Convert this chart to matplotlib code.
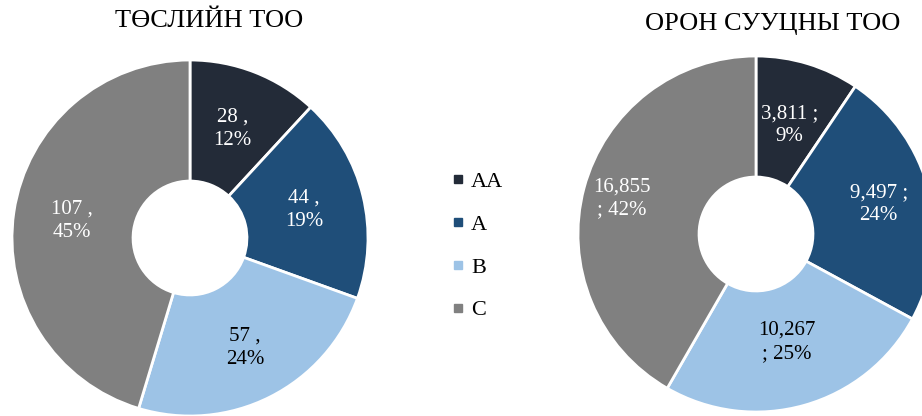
import matplotlib
matplotlib.use("Agg")
import numpy as np
import matplotlib.pyplot as plt
from matplotlib.lines import Line2D

plt.rcParams['font.family'] = ['Liberation Serif', 'DejaVu Serif']

categories = ["AA", "A", "B", "C"]
colors = ["#232b38", "#1f4e79", "#9dc3e6", "#808080"]
label_colors = ["white", "white", "black", "white"]

projects_title = "ТӨСЛИЙН ТОО"
projects = [28, 44, 57, 107]
projects_pct = ["12%", "19%", "24%", "45%"]
projects_text = ["28 ,\n12%", "44 ,\n19%", "57 ,\n24%", "107 ,\n45%"]

units_title = "ОРОН СУУЦНЫ ТОО"
units = [3811, 9497, 10267, 16855]
units_pct = ["9%", "24%", "25%", "42%"]
units_text = ["3,811 ;\n9%", "9,497 ;\n24%", "10,267\n; 25%", "16,855\n; 42%"]

W, H = 922, 416
fig = plt.figure(figsize=(W / 100, H / 100), dpi=100)
ax = fig.add_axes([0, 0, 1, 1])

R = 178
ring = 0.68


def donut(values, labels, center, label_r):
    wedges, _ = ax.pie(values, colors=colors, radius=R, center=center,
                       startangle=90, counterclock=False,
                       wedgeprops=dict(width=R * ring, edgecolor="white", linewidth=2))
    for w, lab, tc, lr in zip(wedges, labels, label_colors, label_r):
        ang = np.deg2rad((w.theta1 + w.theta2) / 2)
        x = center[0] + R * lr * np.cos(ang)
        y = center[1] + R * lr * np.sin(ang)
        ax.text(x, y, lab, ha="center", va="center", color=tc,
                fontsize=15, linespacing=1.3)
    return wedges


donut(projects, projects_text, (190, H - 238), [0.66, 0.66, 0.69, 0.67])
donut(units, units_text, (756, H - 234), [0.64, 0.71, 0.63, 0.78])

ax.text(209, H - 21, projects_title, ha="center", va="center", fontsize=19)
ax.text(773, H - 24, units_title, ha="center", va="center", fontsize=19)

handles = [Line2D([], [], marker="s", linestyle="none", markersize=6,
                  markerfacecolor=c, markeredgecolor=c) for c in colors]
ax.legend(handles, categories, loc="center left", bbox_to_anchor=(440 / W, 1 - 246 / H),
          bbox_transform=fig.transFigure, frameon=False, fontsize=16,
          handlelength=0.6, handletextpad=0.3, labelspacing=1.0, borderpad=0)

ax.set_xlim(0, W)
ax.set_ylim(0, H)
ax.set_aspect("auto")
ax.axis("off")

fig.savefig("out.png", dpi=100)
